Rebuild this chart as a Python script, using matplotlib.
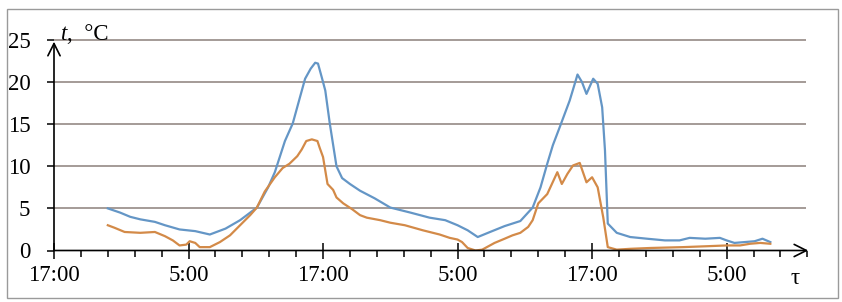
import matplotlib
matplotlib.use("Agg")
import matplotlib.pyplot as plt
from matplotlib.patches import Rectangle
from matplotlib.ticker import FixedLocator, MultipleLocator

plt.rcParams["font.family"] = ["Liberation Serif", "DejaVu Serif"]

# hours after 17:00 on day 1
hours_upper = [4.8, 5.9, 6.8, 7.7, 9.0, 9.9, 11.2, 12.6, 13.9, 15.3, 16.6, 18.1,
               19.1, 19.7, 20.6, 21.3, 21.9, 22.4, 22.9, 23.3, 23.55, 23.9, 24.2,
               24.6, 25.2, 25.7, 26.4, 27.3, 28.6, 30.0, 31.8, 33.5, 34.9, 36.0,
               36.9, 37.8, 38.9, 40.2, 41.6, 42.7, 43.4, 44.0, 44.5, 45.1, 46.0,
               46.5, 46.7, 47.1, 47.5, 48.1, 48.5, 48.9, 49.15, 49.4, 50.2, 51.4,
               52.9, 54.5, 55.8, 56.7, 58.1, 59.4, 60.0, 60.7, 61.6, 62.5, 63.2, 63.9]
temp_upper = [5.0, 4.5, 4.0, 3.7, 3.4, 3.0, 2.5, 2.3, 1.9, 2.6, 3.6, 5.1,
              7.5, 9.3, 13.0, 15.1, 18.0, 20.4, 21.6, 22.3, 22.2, 20.5, 19.0,
              15.1, 10.0, 8.6, 7.9, 7.1, 6.2, 5.1, 4.5, 3.9, 3.6, 3.0,
              2.4, 1.6, 2.2, 2.9, 3.5, 5.1, 7.5, 10.3, 12.5, 14.6, 17.8,
              20.0, 20.9, 20.0, 18.6, 20.4, 19.8, 17.0, 11.9, 3.2, 2.1, 1.6,
              1.4, 1.2, 1.2, 1.5, 1.4, 1.5, 1.2, 0.9, 1.0, 1.1, 1.4, 1.0]

hours_lower = [4.8, 5.4, 6.3, 7.7, 9.0, 9.9, 10.6, 11.2, 11.8, 12.1, 12.6, 13.0,
               13.9, 14.8, 15.7, 16.6, 17.5, 18.1, 18.8, 19.7, 20.4, 21.0, 21.7,
               22.1, 22.5, 23.0, 23.5, 23.7, 24.0, 24.4, 24.9, 25.2, 25.8, 26.6,
               27.3, 27.9, 29.1, 30.0, 31.3, 32.9, 34.4, 35.3, 36.0, 36.4, 36.9,
               37.6, 38.2, 39.3, 40.2, 40.9, 41.6, 42.3, 42.7, 43.2, 44.0, 44.9,
               45.3, 45.8, 46.3, 46.9, 47.5, 48.0, 48.5, 49.0, 49.4, 50.2, 51.4,
               53.2, 56.1, 58.1, 60.0, 61.2, 62.1, 63.0, 63.9]
temp_lower = [3.0, 2.7, 2.2, 2.1, 2.2, 1.7, 1.2, 0.6, 0.7, 1.1, 0.9, 0.4,
              0.4, 1.0, 1.8, 3.0, 4.2, 5.1, 7.0, 8.7, 9.8, 10.3, 11.2,
              12.0, 13.0, 13.2, 13.0, 12.2, 11.1, 7.9, 7.2, 6.3, 5.6, 4.9,
              4.2, 3.9, 3.6, 3.3, 3.0, 2.4, 1.9, 1.5, 1.3, 1.0, 0.3,
              0.0, 0.1, 0.9, 1.4, 1.8, 2.1, 2.8, 3.6, 5.6, 6.7, 9.3,
              7.9, 9.1, 10.1, 10.4, 8.1, 8.7, 7.5, 3.9, 0.4, 0.1, 0.2,
              0.3, 0.4, 0.5, 0.6, 0.6, 0.8, 0.9, 0.8]

y_ticks = [0, 5, 10, 15, 20, 25]
x_major = [0, 12, 24, 36, 48, 60]
x_labels = ["17:00", "5:00", "17:00", "5:00", "17:00", "5:00"]

W, H = 842, 302
fig = plt.figure(figsize=(W / 100, H / 100), dpi=100)

# outer frame of the picture
fig.patches.append(Rectangle((7 / W, 4 / H), 831 / W, 289 / H, transform=fig.transFigure,
                             fill=False, edgecolor="#9a9a9a", lw=1.0))

x0, x1 = 54, 816
y_bot, y_top = 250.5, 27.4
ax = fig.add_axes([x0 / W, (H - y_bot) / H, (x1 - x0) / W, (y_bot - y_top) / H])
ax.set_xlim(0, (x1 - x0) / 11.21)
ax.set_ylim(0, (y_bot - y_top) / 8.42)
for s in ax.spines.values():
    s.set_visible(False)
ax.patch.set_alpha(0)

grid_end = (806 - x0) / 11.21
ax.hlines(y_ticks[1:], 0, grid_end, color="#8c807a", lw=1.1, zorder=1)

ax.plot(hours_upper, temp_upper, color="#6496c6", lw=1.6, zorder=3)
ax.plot(hours_lower, temp_lower, color="#d38a48", lw=1.6, zorder=3)

# axes with arrows
ax.annotate("", xy=(grid_end + 0.2, 0), xytext=(0, 0),
            arrowprops=dict(arrowstyle="->", color="black", lw=1.2, mutation_scale=22,
                            shrinkA=0, shrinkB=0), annotation_clip=False, zorder=4)
ax.annotate("", xy=(0, 24.8), xytext=(0, 0),
            arrowprops=dict(arrowstyle="->", color="black", lw=1.2, mutation_scale=22,
                            shrinkA=0, shrinkB=0), annotation_clip=False, zorder=4)

ax.set_yticks(y_ticks)
ax.set_yticklabels([str(v) for v in y_ticks])
ax.tick_params(axis="y", direction="out", length=5, width=1.1, pad=12, labelsize=16.5)

ax.xaxis.set_major_locator(FixedLocator(x_major))
ax.set_xticklabels(x_labels)
ax.xaxis.set_minor_locator(MultipleLocator(2.4))
ax.tick_params(axis="x", which="major", direction="inout", length=11, width=1.1,
               pad=5, labelsize=16.5)
ax.tick_params(axis="x", which="minor", direction="out", length=4.5, width=1.1)

# axis labels
fig.text(61 / W, (H - 40) / H, "t", fontsize=16.5, style="italic", va="baseline")
fig.text(67 / W, (H - 40) / H, ",  °C", fontsize=16.5, va="baseline")
fig.text(795 / W, (H - 284) / H, "τ", fontsize=16.5, ha="center", va="baseline")

fig.savefig("out.png", dpi=100)
